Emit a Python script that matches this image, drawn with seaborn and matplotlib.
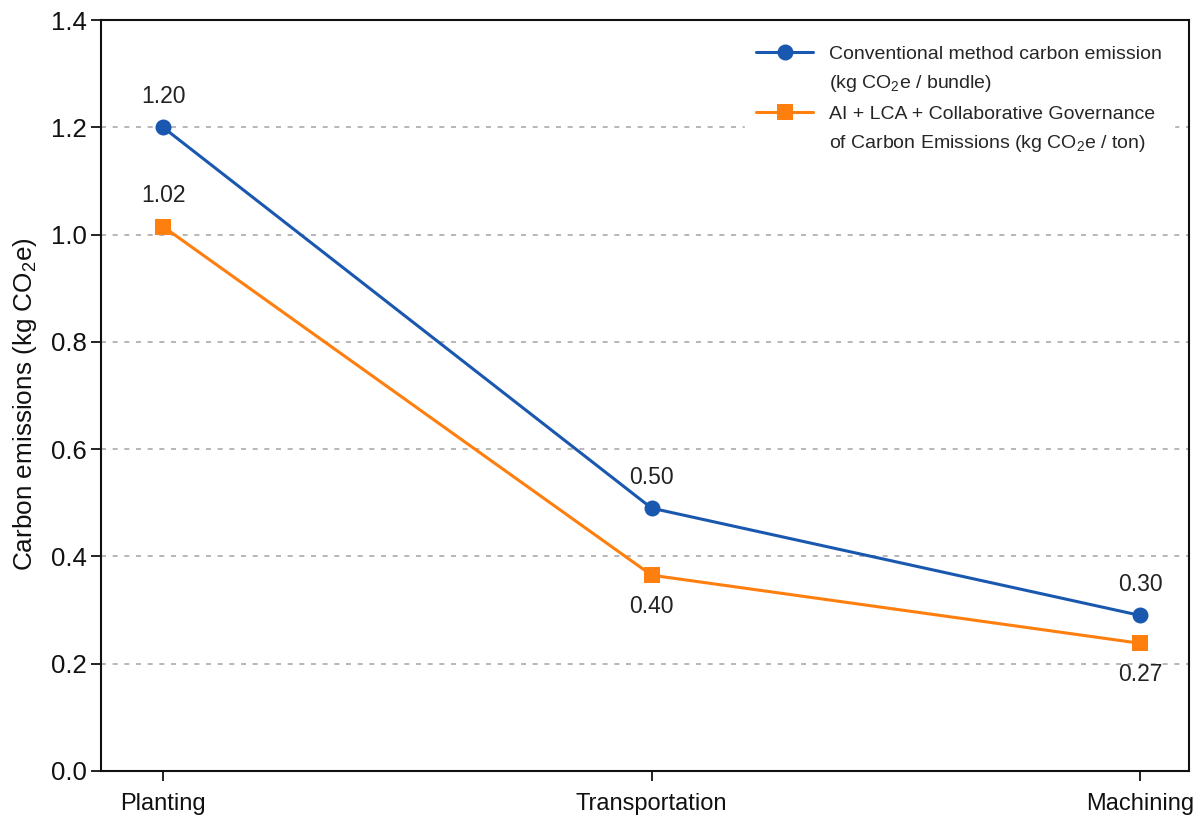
import matplotlib
matplotlib.use("Agg")
import matplotlib.pyplot as plt
from matplotlib.lines import Line2D
import seaborn as sns
import pandas as pd

# Data
stages = ["Planting", "Transportation", "Machining"]
conventional = [1.20, 0.49, 0.29]
governance = [1.015, 0.365, 0.238]
conventional_labels = ["1.20", "0.50", "0.30"]
governance_labels = ["1.02", "0.40", "0.27"]

conv_lines = ["Conventional method carbon emission", "(kg CO$_2$e / bundle)"]
gov_lines = ["AI + LCA + Collaborative Governance", "of Carbon Emissions (kg CO$_2$e / ton)"]

blue = "#1a58b0"
orange = "#ff7f0e"

sns.set_theme(style="white")
plt.rcParams["font.family"] = ["Liberation Sans", "DejaVu Sans"]
plt.rcParams["mathtext.fontset"] = "custom"
plt.rcParams["mathtext.rm"] = "Liberation Sans"

df_conv = pd.DataFrame({"stage": stages, "value": conventional})
df_gov = pd.DataFrame({"stage": stages, "value": governance})

fig = plt.figure(figsize=(11.95, 8.18), dpi=100)
ax = fig.add_axes([0.0845, 0.0575, 0.9105, 0.918])

sns.lineplot(data=df_conv, x="stage", y="value", ax=ax, color=blue, marker="o",
             markersize=11.5, markeredgewidth=0, linewidth=2.2, zorder=3)
sns.lineplot(data=df_gov, x="stage", y="value", ax=ax, color=orange, marker="s",
             markersize=11, markeredgewidth=0, linewidth=2.2, zorder=3)

# value labels
for i, (v, t) in enumerate(zip(conventional, conventional_labels)):
    ax.annotate(t, (i, v), xytext=(0, 14), textcoords="offset points",
                ha="center", va="bottom", fontsize=16.5, color="#222222")
gov_offsets = [14, -14, -14]
for i, (v, t, off) in enumerate(zip(governance, governance_labels, gov_offsets)):
    ax.annotate(t, (i, v), xytext=(0, off), textcoords="offset points",
                ha="center", va="bottom" if off > 0 else "top", fontsize=16.5, color="#222222")

ax.set_ylim(0, 1.4)
ax.set_xlim(-0.127, 2.1)
ax.set_yticks([0.0, 0.2, 0.4, 0.6, 0.8, 1.0, 1.2, 1.4])
ax.set_yticklabels(["0.0", "0.2", "0.4", "0.6", "0.8", "1.0", "1.2", "1.4"])
ax.yaxis.grid(True, linestyle=(0, (3, 4)), color="#aaaaaa", linewidth=1.2)
ax.set_axisbelow(True)

ax.set_xlabel("")
ax.set_ylabel("Carbon emissions (kg CO$_2$e)", fontsize=18.8, color="#111111")
ax.yaxis.set_label_coords(-0.057, 0.489)
ax.tick_params(axis="y", labelsize=18.5, length=7, width=1.3, direction="out", left=True, colors="#111111")
ax.tick_params(axis="x", labelsize=17, length=7, width=1.3, direction="out", bottom=True, pad=9, colors="#111111")

for s in ax.spines.values():
    s.set_color("#111111")
    s.set_linewidth(1.5)

# legend: marker sits on the first line of each two-line label
blank = Line2D([], [], linestyle="none", marker=None, alpha=0)
handles = [
    Line2D([], [], color=blue, marker="o", markersize=11.5, markeredgewidth=0, linewidth=2.2),
    blank,
    Line2D([], [], color=orange, marker="s", markersize=11, markeredgewidth=0, linewidth=2.2),
    blank,
]
labels = [conv_lines[0], conv_lines[1], gov_lines[0], gov_lines[1]]
leg = ax.legend(handles, labels, loc="upper right", bbox_to_anchor=(0.995, 0.995), fontsize=14,
                frameon=True, framealpha=1, edgecolor="white", facecolor="white",
                handlelength=2.9, handletextpad=0.85, labelspacing=0.55, borderpad=0.6)

fig.savefig("out.png", dpi=100, facecolor="white")
